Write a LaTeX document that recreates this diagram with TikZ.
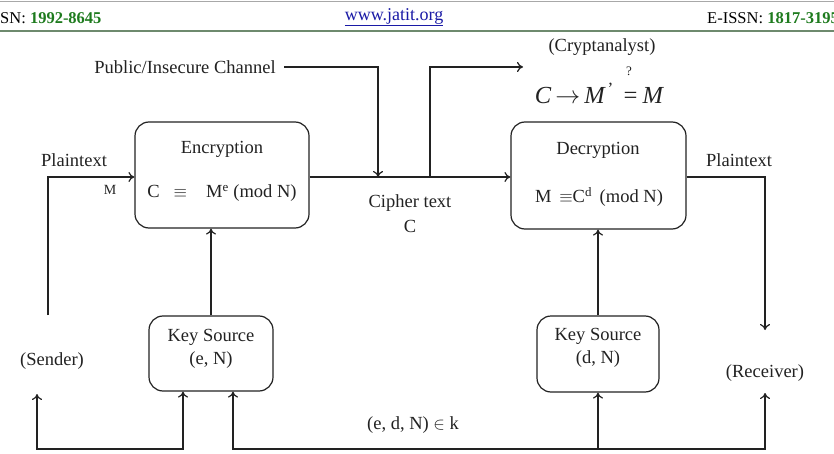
\documentclass[tikz,border=0pt]{standalone}
\usepackage{fontspec}
\setmainfont{Liberation Serif}
\usetikzlibrary{arrows.meta}
\definecolor{issngreen}{HTML}{1E7B1E}
\definecolor{linkblue}{HTML}{1A1AA6}
\definecolor{ink}{HTML}{222222}
\definecolor{topline}{HTML}{A8A8A8}
\definecolor{botline}{HTML}{6E8A6E}
\begin{document}
\begin{tikzpicture}[x=1pt,y=-1pt,
  box/.style={draw=ink, line width=1.2pt, rounded corners=14pt, inner sep=0pt},
  txt/.style={inner sep=0pt, font=\fontsize{18.5}{20}\selectfont, text=ink},
  hdr/.style={inner sep=0pt, font=\fontsize{16.5}{18}\selectfont},
  ln/.style={draw=ink, line width=1.2pt},
  arr/.style={ln, -{To[length=6pt,width=10pt]}},
  arrb/.style={ln, {To[length=6pt,width=10pt]}-{To[length=6pt,width=10pt]}}]
\useasboundingbox (0,0) rectangle (834,454);
\clip (0,0) rectangle (834,454);
\fill[white] (0,0) rectangle (834,454);
% header
\draw[topline, line width=1.5pt] (0,1.5) -- (834,1.5);
\draw[botline, line width=1.5pt] (0,31) -- (834,31);
\node[hdr, anchor=west] (issn) at (0,18) {SN: \textbf{\color{issngreen}1992-8645}};
\node[hdr, font=\fontsize{18}{20}\selectfont, text=linkblue] (link) at (394,17) {\underline{www.jatit.org}};
\node[hdr, anchor=west] (eissn) at (707,18) {E-ISSN: \textbf{\color{issngreen}1817-3195}};
% boxes
\node[box, minimum width=174pt, minimum height=106pt] (enc) at (222,175) {};
\node[box, minimum width=175pt, minimum height=107pt] (dec) at (598.5,175.5) {};
\node[box, minimum width=124pt, minimum height=75pt] (kse) at (211,353.5) {};
\node[box, minimum width=122pt, minimum height=76pt] (ksd) at (598,354) {};
% texts
\node[txt] (enct) at (222,149) {Encryption};
\node[txt] (encf) at (222,193) {C \enspace$\equiv$\enspace\; M\textsuperscript{e} (mod N)};
\node[txt] (dect) at (598,150) {Decryption};
\node[txt] (decf) at (599,197) {M \,$\equiv$C\textsuperscript{d} \,(mod N)};
\node[txt] (kset) at (211,337) {Key Source};
\node[txt] (ksev) at (211,360) {(e, N)};
\node[txt] (ksdt) at (598,336) {Key Source};
\node[txt] (ksdv) at (598,359) {(d, N)};
\node[txt] (pub) at (185,67) {Public/Insecure Channel};
\node[txt] (crypt) at (602,47) {(Cryptanalyst)};
\node[txt, font=\fontsize{24.5}{26}\selectfont] (form) at (599,93)
  {\itshape C\,$\rightarrow$\,M\textsuperscript{\upshape\,'}\,\,=\,M};
\node[txt, font=\fontsize{13}{14}\selectfont] (qm) at (629,71) {?};
\node[txt] (pt1) at (74,160) {Plaintext};
\node[txt, font=\fontsize{14}{15}\selectfont] (m) at (110,190) {M};
\node[txt] (ciph) at (410,203) {Cipher text};
\node[txt] (ciphc) at (410,226) {C};
\node[txt] (pt2) at (739,160) {Plaintext};
\node[txt] (send) at (52,361) {(Sender)};
\node[txt] (recv) at (765,373) {(Receiver)};
\node[txt] (keys) at (413,425) {(e, d, N) $\in$ k};
% coordinates
\coordinate (s0) at (48,315);
\coordinate (l1) at (48,177);
\coordinate (p1) at (284,67);
\coordinate (p2) at (378,177);
\coordinate (q1) at (430,177);
\coordinate (q2) at (523,67);
\coordinate (r1) at (765,330);
\coordinate (sa) at (37,394);
\coordinate (kb) at (183,449);
\coordinate (kc) at (233,449);
\coordinate (ra) at (765,393);
\coordinate (kd) at (598,449);
% connectors
\draw[arr] (s0) -- (l1) -- (l1 -| enc.west);
\draw[arr] (l1 -| enc.east) -- (l1 -| dec.west);
\draw[arr] (p1) -| (p2);
\draw[arr] (q1) |- (q2);
\draw[arr] (l1 -| dec.east) -| (r1);
\draw[arr] (kse.north) -- (kse.north |- enc.south);
\draw[arr] (ksd.north) -- (ksd.north |- dec.south);
\draw[arrb] (sa) |- (kb) -- (kb |- kse.south);
\draw[arrb] (kc |- kse.south) -- (kc) -| (ra);
\draw[arr] (kd) -- (ksd.south);
\end{tikzpicture}
\end{document}
